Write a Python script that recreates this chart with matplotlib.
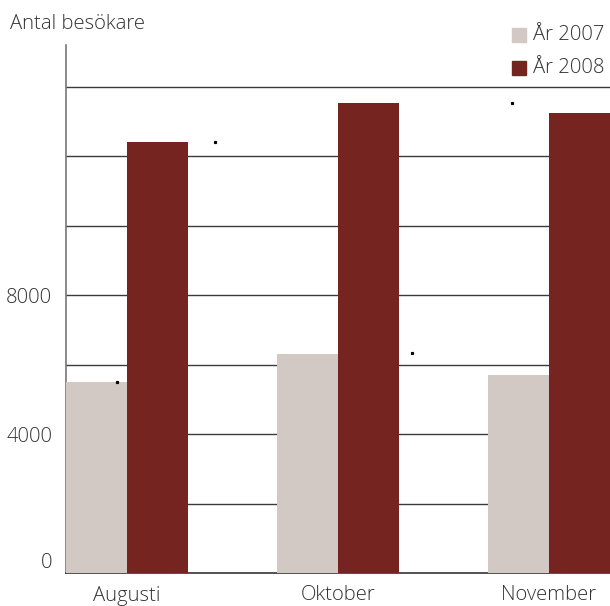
import matplotlib
matplotlib.use("Agg")
import matplotlib.pyplot as plt
import numpy as np
from matplotlib.patches import Rectangle

months = ["Augusti", "Oktober", "November"]
series_names = ["År 2007", "År 2008"]
values_2007 = [5500, 6300, 5700]
values_2008 = [12400, 13520, 13250]
ytick_labels = [0, 4000, 8000]
gridlines = [2000, 4000, 6000, 8000, 10000, 12000, 14000]
# stray dots present in the original (x offset in group units, value)
stray_dots = [(-0.05, 5500), (0.415, 12400), (1.35, 6320), (1.825, 13540)]

c2007 = "#D2C8C4"
c2008 = "#76241F"
txt = "#333333"
plt.rcParams['font.family'] = ['Open Sans', 'DejaVu Sans']
FS = 14.6
FW = 'light'

fig = plt.figure(figsize=(6.10, 6.06), dpi=100)
ax = fig.add_axes([66/610, 1-573/606, (610-66)/610, (573-45)/606])

x = np.arange(len(months))
w = 0.29
ax.bar(x - w/2, values_2007, width=w, color=c2007, zorder=3)
ax.bar(x + w/2, values_2008, width=w, color=c2008, zorder=3)

for g in gridlines:
    ax.axhline(g, color="#3a3a3a", lw=1.0, zorder=1)

for dx, v in stray_dots:
    ax.plot([dx], [v], marker='s', ms=1.3, color='black', zorder=4, ls='none')

ax.set_xlim(-w, 2 + w)
ax.set_ylim(0, 15200)
ax.set_yticks(ytick_labels)
ax.set_yticklabels([str(t) for t in ytick_labels], fontsize=FS, color=txt, fontweight=FW)
ax.set_xticks(x)
ax.set_xticklabels(months, fontsize=FS, color=txt, fontweight=FW)
ax.tick_params(axis='both', length=0)
ax.tick_params(axis='y', pad=10)
ax.tick_params(axis='x', pad=9)
ax.get_yticklabels()[0].set_va('bottom')

for s in ['top', 'right']:
    ax.spines[s].set_visible(False)
ax.spines['left'].set_color("#777777")
ax.spines['left'].set_linewidth(1.2)
ax.spines['bottom'].set_color("#333333")
ax.spines['bottom'].set_linewidth(1.2)

fig.text(10/610, 1-24/606, "Antal besökare", fontsize=FS, color=txt, va='center', ha='left', fontweight=FW)

# legend
for i, (name, col) in enumerate(zip(series_names, [c2007, c2008])):
    yc = 35 + i*33
    fig.patches.append(Rectangle((512/610, 1-(yc+7)/606), 14/610, 14/606,
                                 transform=fig.transFigure, color=col))
    fig.text(533/610, 1-yc/606, name, fontsize=FS, color=txt, va='center', ha='left', fontweight=FW)

fig.savefig("out.png", dpi=100)
